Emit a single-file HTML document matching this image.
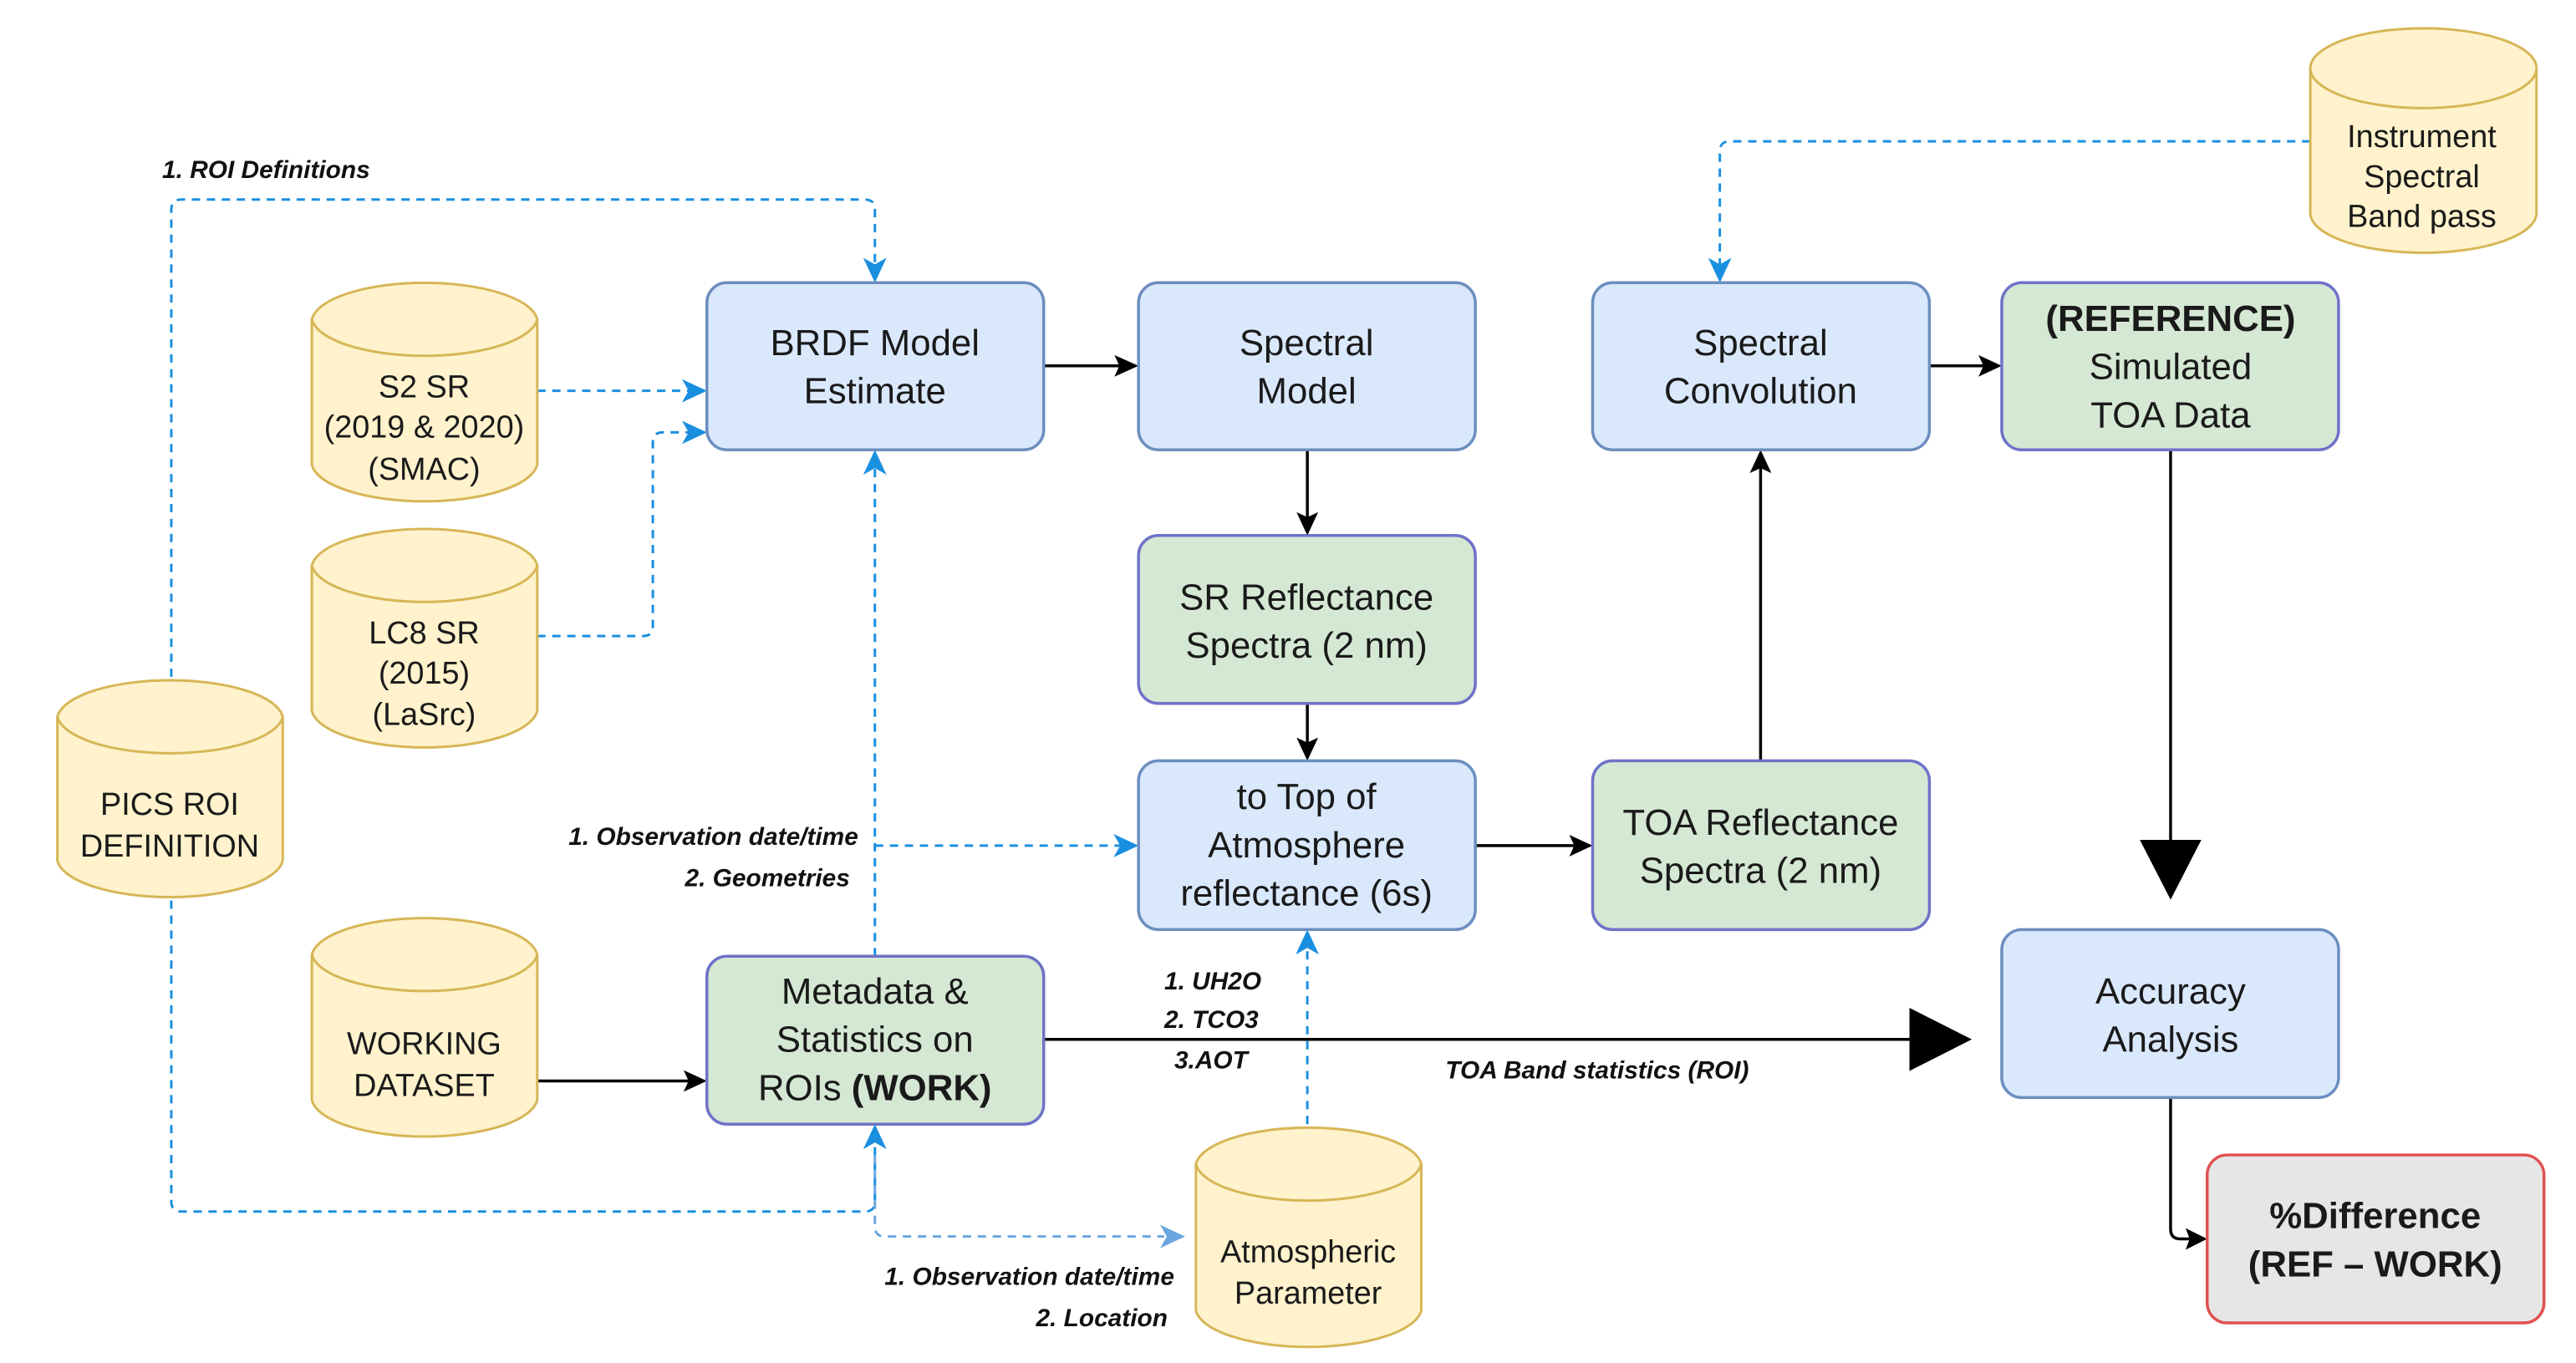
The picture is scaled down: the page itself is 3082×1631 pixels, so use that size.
<!DOCTYPE html>
<html><head><meta charset="utf-8"><style>
html,body{margin:0;padding:0;background:#fff;}
svg{display:block;}
text{font-family:"Liberation Sans",sans-serif;}
.bt{font-size:44px;fill:#1a1a1a;text-anchor:middle;}
.ct{font-size:38px;fill:#1a1a1a;text-anchor:middle;}
.lb{font-size:30px;font-style:italic;font-weight:bold;fill:#111;}
.blue{fill:#dae8fc;stroke:#6c8ebf;stroke-width:3.5;}
.green{fill:#d5e8d4;stroke:#6f72c8;stroke-width:3.5;}
.cyl{fill:#fff2cc;stroke:#d6b656;stroke-width:3;}
.dl{fill:none;stroke:#1a8fe0;stroke-width:3;stroke-dasharray:10 8;}
.kl{fill:none;stroke:#000;stroke-width:3.5;}
</style></head><body>
<svg width="3082" height="1631" viewBox="0 0 3082 1631" xmlns="http://www.w3.org/2000/svg">
<g transform="scale(0.995)">
<!-- connectors -->
<path class="dl" d="M206,814 V252 Q206,240 218,240 H1040 Q1052,240 1052,252 V320"/>
<path d="M1038,310 L1052,340 L1066,310 L1052,318z" fill="#1a8fe0"/>
<path class="dl" d="M646,470 H830"/><path d="M820,456 L850,470 L820,484 L828,470z" fill="#1a8fe0"/>
<path class="dl" d="M646,765 H773 Q785,765 785,753 V532 Q785,520 797,520 H830"/><path d="M820,506 L850,520 L820,534 L828,520z" fill="#1a8fe0"/>
<path class="dl" d="M1052,1150 V561"/><path d="M1038,571 L1052,541 L1066,571 L1052,563z" fill="#1a8fe0"/>
<path class="dl" d="M1052,1017 H1349"/><path d="M1339,1003 L1369,1017 L1339,1031 L1347,1017z" fill="#1a8fe0"/>
<path class="dl" d="M206,1083 V1445 Q206,1457 218,1457 H1040 Q1052,1457 1052,1445 V1372"/><path d="M1038,1382 L1052,1352 L1066,1382 L1052,1374z" fill="#1a8fe0"/>
<path d="M1052,1390 V1475 Q1052,1487 1064,1487 H1400" fill="none" stroke="#6aa6e0" stroke-width="3" stroke-dasharray="10 8"/><path d="M1395,1473 L1425,1487 L1395,1501 L1403,1487z" fill="#6aa6e0"/>
<path class="dl" d="M1572,1352 V1138"/><path d="M1558,1148 L1572,1118 L1586,1148 L1572,1140z" fill="#1a8fe0"/>
<path class="dl" d="M2778,170 H2080 Q2068,170 2068,182 V320"/><path d="M2054,310 L2068,340 L2082,310 L2068,318z" fill="#1a8fe0"/>

<path class="kl" d="M1255,440 H1350"/><path d="M1340,427 L1369,440 L1340,453 L1346,440z" fill="#000"/>
<path class="kl" d="M646,1300 H832"/><path d="M822,1287 L850,1300 L822,1313 L828,1300z" fill="#000"/>
<path class="kl" d="M1572,541 V626"/><path d="M1559,616 L1572,644 L1585,616 L1572,622z" fill="#000"/>
<path class="kl" d="M1572,846 V897"/><path d="M1559,887 L1572,915 L1585,887 L1572,893z" fill="#000"/>
<path class="kl" d="M1774,1017 H1897"/><path d="M1887,1004 L1915,1017 L1887,1030 L1893,1017z" fill="#000"/>
<path class="kl" d="M2117,915 V560"/><path d="M2104,569 L2117,541 L2130,569 L2117,563z" fill="#000"/>
<path class="kl" d="M2320,440 H2390"/><path d="M2379,427 L2407,440 L2379,453 L2385,440z" fill="#000"/>
<path class="kl" d="M2610,541 V1015"/><path d="M2573,1010 L2647,1010 L2610,1082z" fill="#000"/>
<path class="kl" d="M1255,1250 H2300"/><path d="M2296,1212 L2371,1250 L2296,1288z" fill="#000"/>
<path class="kl" d="M2610,1320 V1478 Q2610,1490 2622,1490 H2637"/><path d="M2628,1477 L2654,1490 L2628,1503 L2633,1490z" fill="#000"/>

<!-- boxes -->
<rect class="blue" x="850" y="340" width="405" height="201" rx="24"/>
<text class="bt" x="1052" y="427">BRDF Model</text><text class="bt" x="1052" y="485">Estimate</text>
<rect class="blue" x="1369" y="340" width="405" height="201" rx="24"/>
<text class="bt" x="1571" y="427">Spectral</text><text class="bt" x="1571" y="485">Model</text>
<rect class="blue" x="1915" y="340" width="405" height="201" rx="24"/>
<text class="bt" x="2117" y="427">Spectral</text><text class="bt" x="2117" y="485">Convolution</text>
<rect class="green" x="2407" y="340" width="405" height="201" rx="24"/>
<text class="bt" x="2610" y="398" font-weight="bold">(REFERENCE)</text><text class="bt" x="2610" y="456">Simulated</text><text class="bt" x="2610" y="514">TOA Data</text>
<rect class="green" x="1369" y="644" width="405" height="202" rx="24"/>
<text class="bt" x="1571" y="733">SR Reflectance</text><text class="bt" x="1571" y="791">Spectra (2 nm)</text>
<rect class="blue" x="1369" y="915" width="405" height="203" rx="24"/>
<text class="bt" x="1571" y="973">to Top of</text><text class="bt" x="1571" y="1031">Atmosphere</text><text class="bt" x="1571" y="1089">reflectance (6s)</text>
<rect class="green" x="1915" y="915" width="405" height="203" rx="24"/>
<text class="bt" x="2117" y="1004">TOA Reflectance</text><text class="bt" x="2117" y="1062">Spectra (2 nm)</text>
<rect class="green" x="850" y="1150" width="405" height="202" rx="24"/>
<text class="bt" x="1052" y="1207">Metadata &amp;</text><text class="bt" x="1052" y="1265">Statistics on</text><text class="bt" x="1052" y="1323">ROIs <tspan font-weight="bold">(WORK)</tspan></text>
<rect class="blue" x="2407" y="1118" width="405" height="202" rx="24"/>
<text class="bt" x="2610" y="1207">Accuracy</text><text class="bt" x="2610" y="1265">Analysis</text>
<rect x="2654" y="1389" width="405" height="202" rx="24" fill="#e6e6e6" stroke="#e05050" stroke-width="3.5"/>
<text class="bt" x="2856" y="1477" font-weight="bold" fill="#333">%Difference</text><text class="bt" x="2856" y="1535" font-weight="bold" fill="#333">(REF – WORK)</text>

<!-- cylinders -->
<path class="cyl" d="M375,384 A136,48 0 0 1 646,384 V559 A136,48 0 0 1 375,559Z"/><path class="cyl" d="M375,384 A136,48 0 0 0 646,384"/>
<text class="ct" x="510" y="478">S2 SR</text><text class="ct" x="510" y="526">(2019 &amp; 2020)</text><text class="ct" x="510" y="577">(SMAC)</text>
<path class="cyl" d="M375,680 A136,48 0 0 1 646,680 V855 A136,48 0 0 1 375,855Z"/><path class="cyl" d="M375,680 A136,48 0 0 0 646,680"/>
<text class="ct" x="510" y="774">LC8 SR</text><text class="ct" x="510" y="822">(2015)</text><text class="ct" x="510" y="872">(LaSrc)</text>
<path class="cyl" d="M69,862 A136,48 0 0 1 340,862 V1035 A136,48 0 0 1 69,1035Z"/><path class="cyl" d="M69,862 A136,48 0 0 0 340,862"/>
<text class="ct" x="204" y="980">PICS ROI</text><text class="ct" x="204" y="1030">DEFINITION</text>
<path class="cyl" d="M375,1148 A136,48 0 0 1 646,1148 V1323 A136,48 0 0 1 375,1323Z"/><path class="cyl" d="M375,1148 A136,48 0 0 0 646,1148"/>
<text class="ct" x="510" y="1268">WORKING</text><text class="ct" x="510" y="1318">DATASET</text>
<path class="cyl" d="M1438,1400 A136,48 0 0 1 1709,1400 V1576 A136,48 0 0 1 1438,1576Z"/><path class="cyl" d="M1438,1400 A136,48 0 0 0 1709,1400"/>
<text class="ct" x="1573" y="1518">Atmospheric</text><text class="ct" x="1573" y="1568">Parameter</text>
<path class="cyl" d="M2778,82 A136,48 0 0 1 3050,82 V256 A136,48 0 0 1 2778,256Z"/><path class="cyl" d="M2778,82 A136,48 0 0 0 3050,82"/>
<text class="ct" x="2912" y="177">Instrument</text><text class="ct" x="2912" y="225">Spectral</text><text class="ct" x="2912" y="273">Band pass</text>

<!-- labels -->
<text class="lb" x="195" y="214">1. ROI Definitions</text>
<text class="lb" x="1032" y="1016" text-anchor="end">1. Observation date/time</text>
<text class="lb" x="1022" y="1066" text-anchor="end">2. Geometries</text>
<text class="lb" x="1412" y="1545" text-anchor="end">1. Observation date/time</text>
<text class="lb" x="1404" y="1595" text-anchor="end">2. Location</text>
<text class="lb" x="1400" y="1190">1. UH2O</text>
<text class="lb" x="1400" y="1236">2. TCO3</text>
<text class="lb" x="1412" y="1285">3.AOT</text>
<text class="lb" x="1738" y="1297">TOA Band statistics (ROI)</text>
</g>
</svg>
</body></html>
